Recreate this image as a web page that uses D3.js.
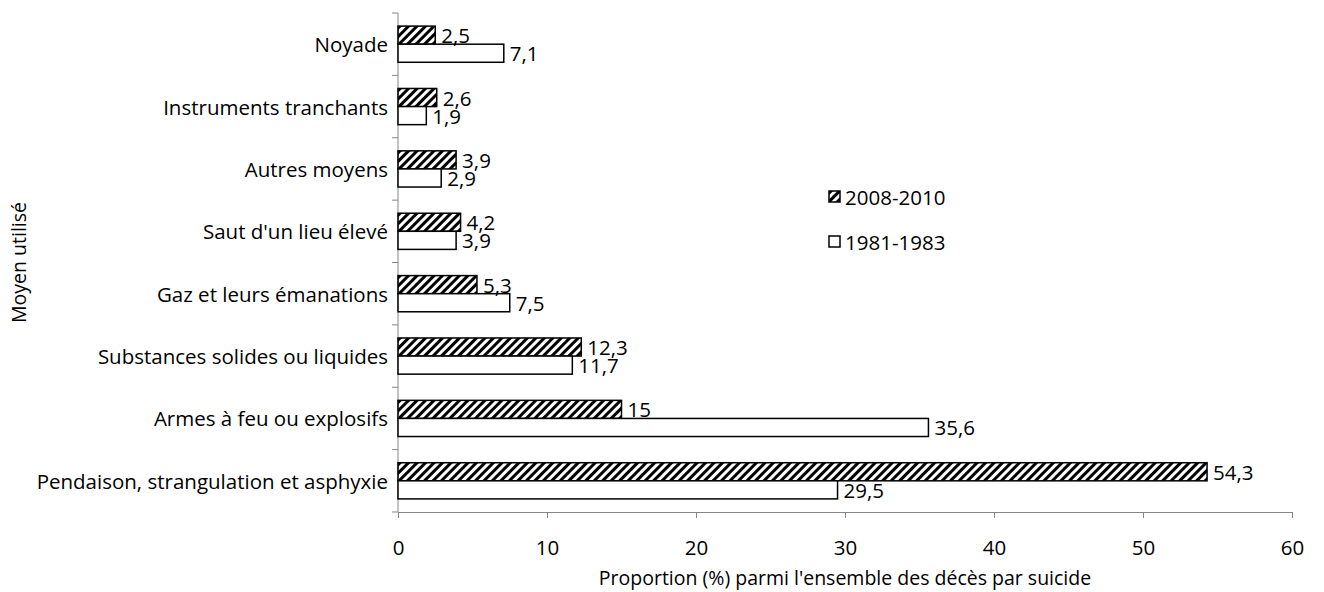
<!DOCTYPE html>
<html>
<head>
<meta charset="utf-8">
<script src="https://cdn.jsdelivr.net/npm/d3@7"></script>
<style>
  body { margin: 0; background: #fff; }
  svg text { font-family: "Open Sans", "Liberation Sans", sans-serif; fill: #000; }
</style>
</head>
<body>
<div id="chart"></div>
<script>
// categories from top to bottom
const categories = [
  "Noyade",
  "Instruments tranchants",
  "Autres moyens",
  "Saut d'un lieu élevé",
  "Gaz et leurs émanations",
  "Substances solides ou liquides",
  "Armes à feu ou explosifs",
  "Pendaison, strangulation et asphyxie"
];
const series = ["2008-2010", "1981-1983"];
const values2008 = [2.5, 2.6, 3.9, 4.2, 5.3, 12.3, 15, 54.3];
const values1981 = [7.1, 1.9, 2.9, 3.9, 7.5, 11.7, 35.6, 29.5];
const xTicks = [0, 10, 20, 30, 40, 50, 60];

const W = 1324, H = 592;
const margin = { top: 13, right: 32, bottom: 80, left: 398 };
const width = W - margin.left - margin.right;
const height = H - margin.top - margin.bottom;
const fs = "20.5px";

const svg = d3.select("#chart").append("svg")
  .attr("width", W).attr("height", H);

// hatch pattern
const defs = svg.append("defs");
defs.append("pattern")
  .attr("id", "hatch")
  .attr("patternUnits", "userSpaceOnUse")
  .attr("width", 6).attr("height", 6)
  .attr("patternTransform", "rotate(45)")
  .append("rect")
  .attr("x", 0).attr("y", 0)
  .attr("width", 3).attr("height", 6)
  .attr("fill", "#000");

const g = svg.append("g").attr("transform", `translate(${margin.left},${margin.top})`);

const x = d3.scaleLinear().domain([0, 60]).range([0, width]);
const y = d3.scaleBand().domain(categories).range([0, height]).paddingInner(0.42).paddingOuter(0.21);
const ySub = d3.scaleBand().domain(series).range([0, y.bandwidth()]);

// axes
const xAxis = g.append("g")
  .attr("transform", `translate(0,${height})`)
  .call(d3.axisBottom(x).tickValues(xTicks).tickSize(6).tickPadding(22).tickFormat(d3.format("d")));
xAxis.selectAll("text").style("font-size", fs);
xAxis.select(".domain").attr("stroke", "#868686");
xAxis.selectAll(".tick line").attr("stroke", "#868686");

// y axis with ticks at band boundaries
const yAxis = g.append("g");
yAxis.append("line").attr("x1", 0).attr("x2", 0).attr("y1", 0).attr("y2", height).attr("stroke", "#868686");
const boundaries = d3.range(categories.length + 1).map(i => i * height / categories.length);
yAxis.selectAll(".yt").data(boundaries).enter().append("line")
  .attr("x1", -6).attr("x2", 0).attr("y1", d => d).attr("y2", d => d)
  .attr("stroke", "#868686");
yAxis.selectAll(".ylab").data(categories).enter().append("text")
  .attr("x", -10)
  .attr("y", d => y(d) + y.bandwidth() / 2)
  .attr("text-anchor", "end")
  .attr("dominant-baseline", "central")
  .style("font-size", fs)
  .text(d => d);

// bars
const rows = categories.map((c, i) => ({ cat: c, v: [values2008[i], values1981[i]] }));
const grp = g.selectAll(".cat").data(rows).enter().append("g")
  .attr("transform", d => `translate(0,${y(d.cat)})`);

grp.selectAll("rect").data(d => series.map((s, j) => ({ s, v: d.v[j] }))).enter().append("rect")
  .attr("x", 0)
  .attr("y", d => ySub(d.s))
  .attr("width", d => x(d.v))
  .attr("height", ySub.bandwidth())
  .attr("fill", d => d.s === "2008-2010" ? "url(#hatch)" : "#fff")
  .attr("stroke", "#000")
  .attr("stroke-width", 1.5);

grp.selectAll(".val").data(d => series.map((s, j) => ({ s, v: d.v[j] }))).enter().append("text")
  .attr("x", d => x(d.v) + 6)
  .attr("y", d => ySub(d.s) + ySub.bandwidth() / 2)
  .attr("dominant-baseline", "central")
  .style("font-size", fs)
  .text(d => String(d.v).replace(".", ","));

// axis titles
svg.append("text")
  .attr("x", margin.left + width / 2)
  .attr("y", 585)
  .attr("text-anchor", "middle")
  .style("font-size", "19.5px")
  .text("Proportion (%) parmi l'ensemble des décès par suicide");

svg.append("text")
  .attr("transform", `translate(18,${margin.top + height / 2}) rotate(-90)`)
  .attr("text-anchor", "middle")
  .attr("dominant-baseline", "central")
  .style("font-size", "19.5px")
  .text("Moyen utilisé");

// legend
const legend = svg.selectAll(".legend").data(series).enter().append("g")
  .attr("transform", (d, i) => `translate(829,${191 + i * 45})`);
legend.append("rect")
  .attr("width", 11).attr("height", 11)
  .attr("fill", d => d === "2008-2010" ? "url(#hatch)" : "#fff")
  .attr("stroke", "#000").attr("stroke-width", 1.5);
legend.append("text")
  .attr("x", 16).attr("y", 6)
  .attr("dominant-baseline", "central")
  .style("font-size", fs)
  .text(d => d);
</script>
</body>
</html>
